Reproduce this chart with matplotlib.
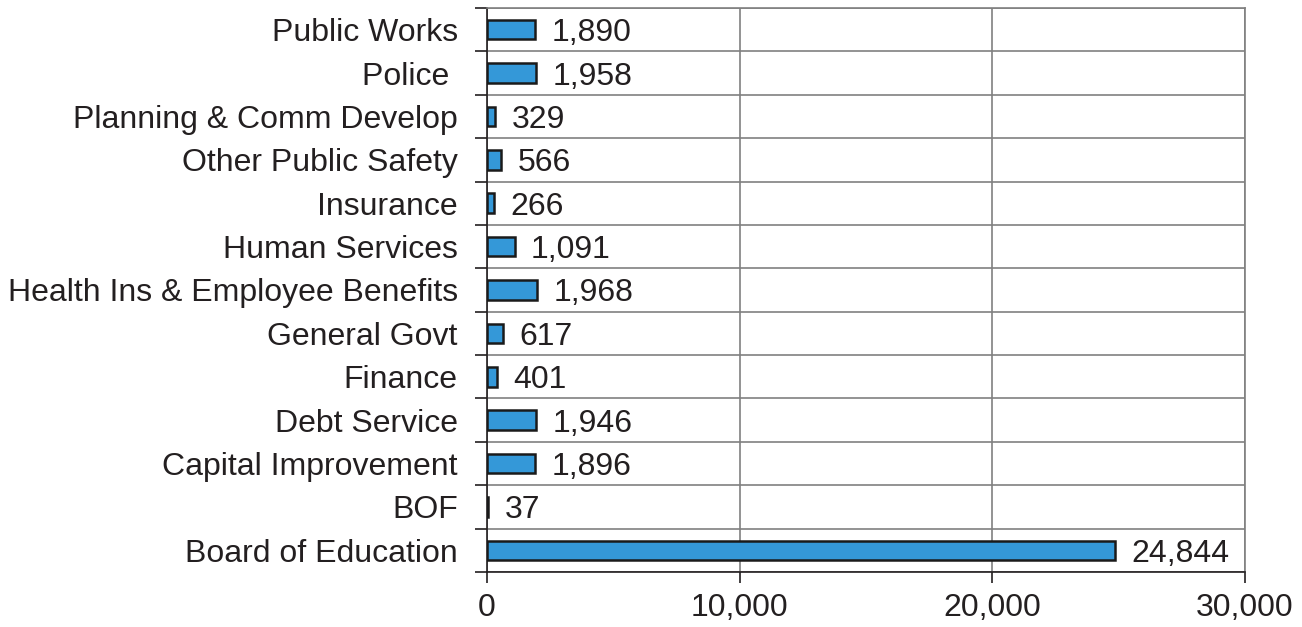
import matplotlib
matplotlib.use("Agg")
import matplotlib.pyplot as plt
import numpy as np

categories = ["Board of Education", "BOF", "Capital Improvement", "Debt Service",
              "Finance", "General Govt", "Health Ins & Employee Benefits",
              "Human Services", "Insurance", "Other Public Safety",
              "Planning & Comm Develop", "Police ", "Public Works"]
values = [24844, 37, 1896, 1946, 401, 617, 1968, 1091, 266, 566, 329, 1958, 1890]
xticks = [0, 10000, 20000, 30000]

plt.rcParams['font.family'] = ['Liberation Sans', 'DejaVu Sans']

fig = plt.figure(figsize=(13.02, 6.27), dpi=100)
ax = fig.add_axes([487/1302, 1-572/627, (1245-487)/1302, (572-8)/627])

y = np.arange(len(categories))
ax.barh(y, values, height=0.45, color='#3498d8', edgecolor='#1a1a1a', linewidth=1.8, zorder=3)

for yi, v in zip(y, values):
    ax.text(v + 650, yi, f"{v:,}", va='center_baseline', ha='left', fontsize=23, color='#231f20', zorder=4)

ax.set_xlim(0, 30000)
ax.set_ylim(-0.5, len(categories) - 0.5)
ax.set_xticks(xticks)
ax.set_xticklabels([f"{t:,}" for t in xticks], fontsize=23, color='#231f20')
ax.set_yticks(y)
ax.set_yticklabels(categories, fontsize=23, color='#231f20')
ax.set_yticks(np.arange(-0.5, len(categories), 1.0), minor=True)

ax.tick_params(axis='y', which='major', length=0, pad=21)
ax.tick_params(axis='y', which='minor', length=9, width=1.2, color='#231f20', direction='out')
ax.tick_params(axis='x', which='major', length=8, width=1.2, color='#231f20', pad=7)

ax.grid(axis='x', which='major', color='#808080', linewidth=1.2, zorder=0)
ax.grid(axis='y', which='minor', color='#808080', linewidth=1.2, zorder=0)

for s in ['top', 'right']:
    ax.spines[s].set_color('#808080')
    ax.spines[s].set_linewidth(1.2)
for s in ['left', 'bottom']:
    ax.spines[s].set_color('#231f20')
    ax.spines[s].set_linewidth(1.2)

fig.savefig("out.png", dpi=100)
